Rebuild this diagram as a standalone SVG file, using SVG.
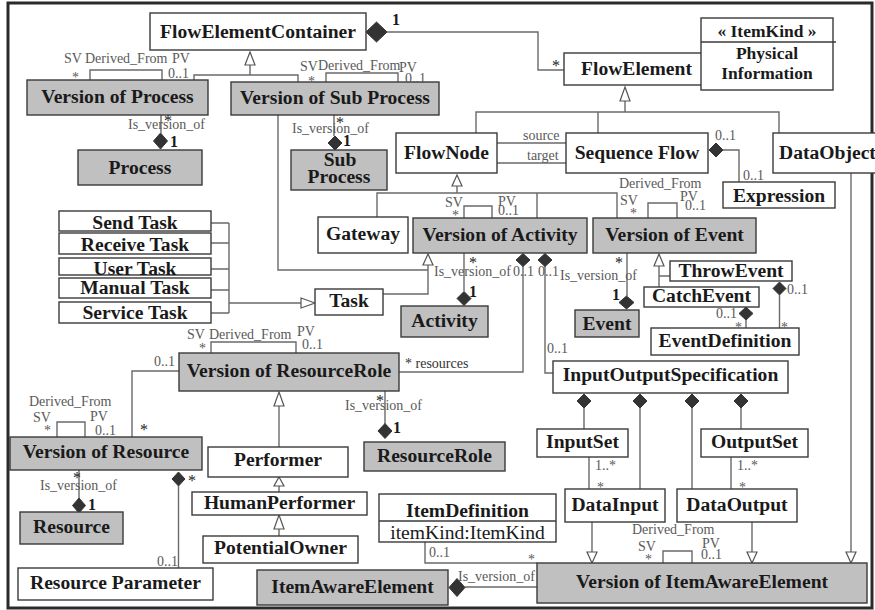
<svg xmlns="http://www.w3.org/2000/svg" width="875" height="610" viewBox="0 0 875 610">
<style>
.b{fill:#fff;stroke:#3a3a3a;stroke-width:1.4}
.v{fill:#c0c0c0;stroke:#3a3a3a;stroke-width:1.4}
.t{font-family:"Liberation Serif","Times New Roman",serif;font-weight:bold;font-size:19.6px;fill:#1a1a1a;text-anchor:middle}
.n{font-family:"Liberation Serif","Times New Roman",serif;font-size:19.6px;fill:#1a1a1a;text-anchor:middle}
.k{font-family:"Liberation Serif","Times New Roman",serif;font-weight:bold;font-size:17.5px;fill:#1a1a1a;text-anchor:middle}
.c{fill:none;stroke:#6a6a6a;stroke-width:1.4}
.d{fill:#333;stroke:#333;stroke-width:1}
.g{fill:#fff;stroke:#555;stroke-width:1.2}
.l{font-family:"Liberation Serif","Times New Roman",serif;font-size:14px;fill:#5a5a5a}
.m{font-family:"Liberation Serif","Times New Roman",serif;font-size:16px;fill:#1a1a1a}
.o{font-family:"Liberation Serif","Times New Roman",serif;font-size:16px;font-weight:bold;fill:#1a1a1a}
</style>
<rect x="8" y="3" width="864" height="605" fill="#fff" stroke="#2a2a2a" stroke-width="3"/>
<g id="connectors">
<path class="c" d="M387,32 H538 V70 H564"/>
<path class="c" d="M250,65 V75 M194,80 V75 H298 V82"/>
<path class="c" d="M90,80 V70 H162 V80"/>
<path class="c" d="M326,82 V73 H398 V82"/>
<path class="c" d="M161,115 V133"/>
<path class="c" d="M334,115 V136"/>
<path class="c" d="M278,115 V270 H428"/>
<path class="c" d="M625,101 V112 M476,133 V112 H779 V133 M598,112 V133"/>
<path class="c" d="M497,143 H566 M497,163 H566"/>
<path class="c" d="M723,150 H739 V182"/>
<path class="c" d="M851,173 V552"/>
<path class="c" d="M457,186 V193 M377,217 V193 H617 V218 M537,193 V218"/>
<path class="c" d="M464,218 V206 H492 V218"/>
<path class="c" d="M648,218 V203 H677 V218"/>
<path class="c" d="M464,253 V291"/>
<path class="c" d="M523,266 V372 H399"/>
<path class="c" d="M545,266 V373 H553"/>
<path class="c" d="M627,253 V296"/>
<path class="c" d="M659,266 V287 M659,276 H670"/>
<path class="c" d="M746,320 V328"/>
<path class="c" d="M779.5,295 V328"/>
<path class="c" d="M211,223 H229 M211,243 H229 M211,269 H229 M211,290 H229 M211,313 H229 M229,223 V313 M229,303 H301"/>
<path class="c" d="M383,294 H428 V265"/>
<path class="c" d="M584,408 V429 M640,408 V489 M692,408 V489 M741,408 V429"/>
<path class="c" d="M589,457 V489 M731,457 V489"/>
<path class="c" d="M592,522 V552 M752,522 V552"/>
<path class="c" d="M663,563 V551 H692 V563"/>
<path class="c" d="M425,542 V563 H537"/>
<path class="c" d="M465,587 H537"/>
<path class="c" d="M211,353 V342 H296 V353"/>
<path class="c" d="M279,406 V447"/>
<path class="c" d="M179,371 H132 V437"/>
<path class="c" d="M385,391 V424"/>
<path class="c" d="M57,437 V422 H85 V437"/>
<path class="c" d="M79,470 V498"/>
<path class="c" d="M178.5,486 V568"/>
<path class="c" d="M279,486 V492 M279,529 V536"/>
<polygon class="d" points="366,32 376.5,22 387,32 376.5,42"/>
<polygon class="d" points="160.5,133 167.5,141 160.5,149 153.5,141"/>
<polygon class="d" points="335,136 342,143 335,150 328,143"/>
<polygon class="d" points="709,150 716,143 723,150 716,157"/>
<polygon class="d" points="464,291.5 471,298.5 464,305.5 457,298.5"/>
<polygon class="d" points="523,253.5 530,260 523,266.5 516,260"/>
<polygon class="d" points="545,253.5 552,260 545,266.5 538,260"/>
<polygon class="d" points="626.5,296 634,302.5 626.5,309 619,302.5"/>
<polygon class="d" points="746,307 753,313.5 746,320 739,313.5"/>
<polygon class="d" points="779.5,282 786,288.5 779.5,295 773,288.5"/>
<polygon class="d" points="584,394 591,401 584,408 577,401"/>
<polygon class="d" points="640,394 647,401 640,408 633,401"/>
<polygon class="d" points="692,394 699,401 692,408 685,401"/>
<polygon class="d" points="741,394 748,401 741,408 734,401"/>
<polygon class="d" points="385,423.5 392,431 385,438.5 378,431"/>
<polygon class="d" points="79,498 85.5,505.5 79,513 72.5,505.5"/>
<polygon class="d" points="178.5,472 185,479 178.5,486 172,479"/>
<polygon class="d" points="449,587.5 457,578.5 465,587.5 457,596.5"/>
<polygon class="g" points="250,52 255,65 245,65"/>
<polygon class="g" points="625,87 630,101 620,101"/>
<polygon class="g" points="457,175 462,186 452,186"/>
<polygon class="g" points="428,254 433,265 423,265"/>
<polygon class="g" points="315,303 301,298 301,308"/>
<polygon class="g" points="659,254 664,266 654,266"/>
<polygon class="g" points="279,392 284,406 274,406"/>
<polygon class="g" points="279,477 284,486 274,486"/>
<polygon class="g" points="279,515 284,529 274,529"/>
<polygon class="g" points="592,563 597,552 587,552"/>
<polygon class="g" points="752,563 757,552 747,552"/>
<polygon class="g" points="851,563 856,552 846,552"/>
</g>
<g id="FlowElementContainer"><rect class="b" x="150" y="13" width="216" height="37"/><text class="t" x="258" y="38">FlowElementContainer</text></g>
<g id="FlowElement"><rect class="b" x="564" y="53" width="145" height="32"/><text class="t" x="636.5" y="75">FlowElement</text></g>
<g id="ItemKind"><rect class="b" x="701" y="18" width="132" height="72"/><line x1="701" y1="42" x2="836" y2="42" stroke="#3a3a3a" stroke-width="1.4"/><text class="k" x="767" y="37">« ItemKind »</text><text class="k" x="767" y="59">Physical</text><text class="k" x="767" y="79">Information</text></g>
<g id="VersionOfProcess"><rect class="v" x="27" y="80" width="181" height="35"/><text class="t" x="117.5" y="102.5">Version of Process</text></g>
<g id="VersionOfSubProcess"><rect class="v" x="231" y="82" width="208" height="33"/><text class="t" x="335" y="104">Version of Sub Process</text></g>
<g id="Process"><rect class="v" x="78" y="150" width="124" height="35"/><text class="t" x="140" y="174">Process</text></g>
<g id="SubProcess"><rect class="v" x="291" y="150" width="96" height="40"/><text class="t" x="340" y="166">Sub</text><text class="t" x="339" y="183">Process</text></g>
<g id="FlowNode"><rect class="b" x="396" y="133" width="101" height="40"/><text class="t" x="446.5" y="159">FlowNode</text></g>
<g id="SequenceFlow"><rect class="b" x="566" y="133" width="142" height="40"/><text class="t" x="637" y="159">Sequence Flow</text></g>
<g id="DataObject"><rect class="b" x="773" y="133" width="110" height="40"/><text class="t" x="779" y="159" style="text-anchor:start">DataObject</text></g>
<g id="Expression"><rect class="b" x="723" y="182" width="112" height="26"/><text class="t" x="779" y="202">Expression</text></g>
<g id="SendTask"><rect class="b" x="59" y="211" width="152" height="20"/><text class="t" x="135" y="228.5">Send Task</text></g>
<g id="ReceiveTask"><rect class="b" x="59" y="233" width="152" height="21"/><text class="t" x="135" y="250.5">Receive Task</text></g>
<g id="UserTask"><rect class="b" x="59" y="258" width="152" height="17"/><text class="t" x="135" y="275">User Task</text></g>
<g id="ManualTask"><rect class="b" x="59" y="278" width="152" height="20"/><text class="t" x="135" y="294">Manual Task</text></g>
<g id="ServiceTask"><rect class="b" x="59" y="302" width="152" height="21"/><text class="t" x="135" y="319">Service Task</text></g>
<g id="Task"><rect class="b" x="315" y="289" width="68" height="26"/><text class="t" x="349" y="307">Task</text></g>
<g id="Gateway"><rect class="b" x="318" y="217" width="90" height="36"/><text class="t" x="363" y="240">Gateway</text></g>
<g id="VersionOfActivity"><rect class="v" x="413" y="218" width="174" height="35"/><text class="t" x="500" y="241">Version of Activity</text></g>
<g id="VersionOfEvent"><rect class="v" x="593" y="218" width="163" height="35"/><text class="t" x="674.5" y="241">Version of Event</text></g>
<g id="Activity"><rect class="v" x="401" y="306" width="87" height="31"/><text class="t" x="444.5" y="327">Activity</text></g>
<g id="Event"><rect class="v" x="575" y="310" width="64" height="27"/><text class="t" x="607" y="330">Event</text></g>
<g id="ThrowEvent"><rect class="b" x="670" y="261" width="122" height="20"/><text class="t" x="731" y="277">ThrowEvent</text></g>
<g id="CatchEvent"><rect class="b" x="644" y="287" width="115" height="20"/><text class="t" x="701.5" y="302">CatchEvent</text></g>
<g id="EventDefinition"><rect class="b" x="651" y="328" width="148" height="27"/><text class="t" x="725" y="347">EventDefinition</text></g>
<g id="InputOutputSpecification"><rect class="b" x="553" y="361" width="235" height="32"/><text class="t" x="670.5" y="381">InputOutputSpecification</text></g>
<g id="InputSet"><rect class="b" x="537" y="429" width="91" height="28"/><text class="t" x="582.5" y="448">InputSet</text></g>
<g id="OutputSet"><rect class="b" x="701" y="429" width="107" height="28"/><text class="t" x="754.5" y="448">OutputSet</text></g>
<g id="DataInput"><rect class="b" x="565" y="489" width="100" height="33"/><text class="t" x="615" y="511">DataInput</text></g>
<g id="DataOutput"><rect class="b" x="677" y="489" width="120" height="33"/><text class="t" x="737" y="511">DataOutput</text></g>
<g id="VersionOfItemAwareElement"><rect class="v" x="537" y="563" width="330" height="40"/><text class="t" x="702" y="588">Version of ItemAwareElement</text></g>
<g id="ItemDefinition"><rect class="b" x="379" y="494" width="177" height="48"/><line x1="379" y1="521" x2="556" y2="521" stroke="#3a3a3a" stroke-width="1.4"/><text class="t" x="467.5" y="517">ItemDefinition</text><text class="n" x="467.5" y="539">itemKind:ItemKind</text></g>
<g id="ItemAwareElement"><rect class="v" x="257" y="570" width="191" height="35"/><text class="t" x="352.5" y="593">ItemAwareElement</text></g>
<g id="VersionOfResourceRole"><rect class="v" x="179" y="353" width="220" height="38"/><text class="t" x="289" y="377">Version of ResourceRole</text></g>
<g id="ResourceRole"><rect class="v" x="364" y="442" width="141" height="29"/><text class="t" x="434.5" y="462">ResourceRole</text></g>
<g id="Performer"><rect class="b" x="208" y="447" width="140" height="30"/><text class="t" x="278" y="466">Performer</text></g>
<g id="HumanPerformer"><rect class="b" x="192" y="492" width="175" height="23"/><text class="t" x="279.5" y="509">HumanPerformer</text></g>
<g id="PotentialOwner"><rect class="b" x="203" y="536" width="155" height="27"/><text class="t" x="280.5" y="554">PotentialOwner</text></g>
<g id="VersionOfResource"><rect class="v" x="10" y="437" width="192" height="33"/><text class="t" x="106" y="458">Version of Resource</text></g>
<g id="Resource"><rect class="v" x="20" y="512" width="103" height="32"/><text class="t" x="71.5" y="533">Resource</text></g>
<g id="ResourceParameter"><rect class="b" x="18" y="568" width="195" height="32"/><text class="t" x="115.5" y="589">Resource Parameter</text></g>
<g id="labels">
<text class="o" x="392" y="25">1</text>
<text class="m" x="552" y="71">*</text>
<text class="l" x="64" y="63">SV</text><text class="l" x="85" y="63">Derived_From</text><text class="l" x="172" y="63">PV</text><text class="l" x="72" y="81.5">*</text><text class="l" x="168" y="78">0..1</text>
<text class="l" x="300" y="71">SV</text><text class="l" x="318" y="70">Derived_From</text><text class="l" x="399" y="72">PV</text><text class="l" x="308" y="85.5">*</text><text class="l" x="405" y="83">0..1</text>
<text class="m" x="164" y="126">*</text><text class="l" x="128" y="129">Is_version_of</text><text class="o" x="170" y="147">1</text>
<text class="m" x="336" y="128">*</text><text class="l" x="292" y="133">Is_version_of</text><text class="o" x="343" y="146">1</text>
<text class="l" x="523" y="140">source</text><text class="l" x="527" y="160">target</text>
<text class="l" x="715" y="140">0..1</text><text class="l" x="743" y="180">0..1</text>
<text class="l" x="445" y="207">SV</text><text class="l" x="452" y="220">*</text><text class="l" x="498" y="206">PV</text><text class="l" x="498" y="215">0..1</text>
<text class="l" x="619" y="188">Derived_From</text><text class="l" x="620" y="205">SV</text><text class="l" x="630" y="218">*</text><text class="l" x="680" y="201">PV</text><text class="l" x="685" y="210">0..1</text>
<text class="m" x="469" y="268">*</text><text class="l" x="434" y="276">Is_version_of</text><text class="o" x="469" y="297">1</text>
<text class="l" x="513" y="276">0..1</text><text class="l" x="538" y="276">0..1</text>
<text class="l" x="560" y="280">Is_version_of</text><text class="m" x="615" y="268">*</text><text class="o" x="612" y="300">1</text>
<text class="l" x="405" y="368" style="fill:#333">* resources</text>
<text class="l" x="547" y="353">0..1</text>
<text class="l" x="716" y="318">0..1</text><text class="l" x="735" y="332">*</text>
<text class="l" x="787" y="294">0..1</text><text class="l" x="781" y="332">*</text>
<text class="l" x="595" y="470">1..*</text><text class="l" x="597" y="492">*</text>
<text class="l" x="737" y="470">1..*</text><text class="l" x="739" y="492">*</text>
<text class="l" x="632" y="534">Derived_From</text><text class="l" x="638" y="551">SV</text><text class="l" x="645" y="564">*</text><text class="l" x="702" y="548">PV</text><text class="l" x="701" y="559">0..1</text>
<text class="l" x="429" y="557">0..1</text><text class="l" x="528" y="564">*</text>
<text class="l" x="458" y="581">Is_version_of</text>
<text class="l" x="187" y="339">SV</text><text class="l" x="209" y="339">Derived_From</text><text class="l" x="297" y="336">PV</text><text class="l" x="199" y="353">*</text><text class="l" x="302" y="349">0..1</text>
<text class="l" x="154" y="366">0..1</text><text class="m" x="140" y="435">*</text>
<text class="m" x="376" y="406">*</text><text class="l" x="345" y="410">Is_version_of</text><text class="o" x="393" y="433">1</text>
<text class="l" x="29" y="406">Derived_From</text><text class="l" x="33" y="422">SV</text><text class="l" x="44" y="435">*</text><text class="l" x="90" y="421">PV</text><text class="l" x="95" y="435">0..1</text>
<text class="m" x="73" y="483">*</text><text class="l" x="40" y="490">Is_version_of</text><text class="o" x="88" y="510">1</text>
<text class="m" x="188" y="486">*</text><text class="l" x="157" y="566">0..1</text>
</g>
</svg>
